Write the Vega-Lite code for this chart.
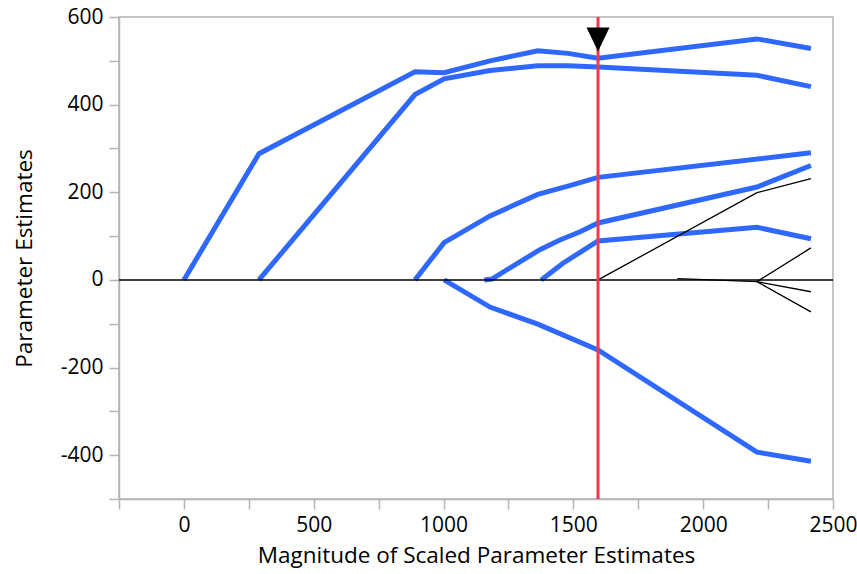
{
  "$schema": "https://vega.github.io/schema/vega-lite/v6.json",
  "width": 714,
  "height": 482,
  "autosize": {"type": "none"},
  "padding": {"left": 119, "top": 17, "right": 24, "bottom": 75},
  "background": "white",
  "config": {
    "font": "Open Sans",
    "view": {"stroke": "#b4b4b4", "strokeWidth": 1.5},
    "axis": {
      "domainColor": "#b4b4b4",
      "domainWidth": 1.5,
      "tickColor": "#b4b4b4",
      "tickWidth": 1.5,
      "grid": false,
      "labelColor": "black",
      "labelFontSize": 21,
      "titleFontSize": 22.5,
      "titleFontWeight": "normal",
      "titleColor": "black",
      "labelFont": "Open Sans",
      "titleFont": "Open Sans"
    }
  },
  "datasets": {
    "paths": [
      {"series": "A", "group": "blue", "x": 0, "y": 0},
      {"series": "A", "group": "blue", "x": 289, "y": 288},
      {"series": "A", "group": "blue", "x": 890, "y": 475},
      {"series": "A", "group": "blue", "x": 1002, "y": 473},
      {"series": "A", "group": "blue", "x": 1179, "y": 500},
      {"series": "A", "group": "blue", "x": 1363, "y": 523},
      {"series": "A", "group": "blue", "x": 1479, "y": 517},
      {"series": "A", "group": "blue", "x": 1595, "y": 506},
      {"series": "A", "group": "blue", "x": 2207, "y": 550},
      {"series": "A", "group": "blue", "x": 2415, "y": 528},
      {"series": "B", "group": "blue", "x": 289, "y": 0},
      {"series": "B", "group": "blue", "x": 890, "y": 423},
      {"series": "B", "group": "blue", "x": 1002, "y": 459},
      {"series": "B", "group": "blue", "x": 1179, "y": 478},
      {"series": "B", "group": "blue", "x": 1363, "y": 489},
      {"series": "B", "group": "blue", "x": 1479, "y": 489},
      {"series": "B", "group": "blue", "x": 1595, "y": 486},
      {"series": "B", "group": "blue", "x": 2207, "y": 467},
      {"series": "B", "group": "blue", "x": 2415, "y": 441},
      {"series": "C", "group": "blue", "x": 890, "y": 0},
      {"series": "C", "group": "blue", "x": 1002, "y": 85},
      {"series": "C", "group": "blue", "x": 1179, "y": 146},
      {"series": "C", "group": "blue", "x": 1363, "y": 195},
      {"series": "C", "group": "blue", "x": 1479, "y": 214},
      {"series": "C", "group": "blue", "x": 1595, "y": 234},
      {"series": "C", "group": "blue", "x": 2415, "y": 290},
      {"series": "D", "group": "blue", "x": 1157, "y": 0},
      {"series": "D", "group": "blue", "x": 1186, "y": 2},
      {"series": "D", "group": "blue", "x": 1371, "y": 69},
      {"series": "D", "group": "blue", "x": 1448, "y": 91},
      {"series": "D", "group": "blue", "x": 1526, "y": 110},
      {"series": "D", "group": "blue", "x": 1595, "y": 130},
      {"series": "D", "group": "blue", "x": 2207, "y": 212},
      {"series": "D", "group": "blue", "x": 2415, "y": 261},
      {"series": "E", "group": "blue", "x": 1376, "y": 0},
      {"series": "E", "group": "blue", "x": 1460, "y": 38},
      {"series": "E", "group": "blue", "x": 1595, "y": 89},
      {"series": "E", "group": "blue", "x": 2207, "y": 120},
      {"series": "E", "group": "blue", "x": 2415, "y": 94},
      {"series": "F", "group": "blue", "x": 1002, "y": 0},
      {"series": "F", "group": "blue", "x": 1179, "y": -62},
      {"series": "F", "group": "blue", "x": 1363, "y": -101},
      {"series": "F", "group": "blue", "x": 1595, "y": -160},
      {"series": "F", "group": "blue", "x": 2207, "y": -393},
      {"series": "F", "group": "blue", "x": 2415, "y": -414},
      {"series": "G", "group": "black", "x": 1595, "y": 0},
      {"series": "G", "group": "black", "x": 2207, "y": 199},
      {"series": "G", "group": "black", "x": 2415, "y": 231},
      {"series": "H1", "group": "black", "x": 1900, "y": 3},
      {"series": "H1", "group": "black", "x": 2207, "y": -4},
      {"series": "H1", "group": "black", "x": 2415, "y": 73},
      {"series": "H2", "group": "black", "x": 2207, "y": -4},
      {"series": "H2", "group": "black", "x": 2415, "y": -27},
      {"series": "H3", "group": "black", "x": 2207, "y": -4},
      {"series": "H3", "group": "black", "x": 2415, "y": -73}
    ],
    "marker": [{"x": 1595, "y": 550}],
    "zero": [{"y": 0}],
    "selected": [{"x": 1595}]
  },
  "layer": [
    {
      "data": {"name": "paths"},
      "transform": [{"filter": "datum.group === 'blue'"}],
      "mark": {"type": "line", "color": "#2f68ff", "strokeWidth": 5, "clip": true},
      "encoding": {
        "x": {
          "field": "x", "type": "quantitative",
          "scale": {"domain": [-250, 2500], "nice": false, "zero": false},
          "axis": {
            "title": "Magnitude of Scaled Parameter Estimates",
            "values": [-250, 0, 250, 500, 750, 1000, 1250, 1500, 1750, 2000, 2250, 2500],
            "labelExpr": "datum.value % 500 === 0 ? '' + datum.value : ''",
            "labelOverlap": false,
            "labelFlush": false,
            "tickSize": 10,
            "labelPadding": 5,
            "titlePadding": 9,
            "encode": {"ticks": {"update": {"y2": {"signal": "datum.value % 500 === 0 ? 10 : 5"}}}}
          }
        },
        "y": {
          "field": "y", "type": "quantitative",
          "scale": {"domain": [-500, 600], "nice": false, "zero": false},
          "axis": {
            "title": "Parameter Estimates",
            "values": [-500, -400, -300, -200, -100, 0, 100, 200, 300, 400, 500, 600],
            "labelExpr": "datum.value % 200 === 0 ? '' + datum.value : ''",
            "labelOverlap": false,
            "labelFlush": false,
            "tickSize": 10,
            "labelPadding": 6,
            "titlePadding": 24,
            "encode": {"ticks": {"update": {"x2": {"signal": "datum.value % 200 === 0 ? -10 : -5"}}}}
          }
        },
        "detail": {"field": "series"}
      }
    },
    {
      "data": {"name": "paths"},
      "transform": [{"filter": "datum.group === 'black'"}],
      "mark": {"type": "line", "color": "black", "strokeWidth": 1.3, "clip": true},
      "encoding": {
        "x": {"field": "x", "type": "quantitative"},
        "y": {"field": "y", "type": "quantitative"},
        "detail": {"field": "series"}
      }
    },
    {
      "data": {"name": "zero"},
      "mark": {"type": "rule", "color": "black", "strokeWidth": 1.5},
      "encoding": {"y": {"field": "y", "type": "quantitative"}}
    },
    {
      "data": {"name": "selected"},
      "mark": {"type": "rule", "color": "#f0384d", "strokeWidth": 3},
      "encoding": {"x": {"field": "x", "type": "quantitative"}}
    },
    {
      "data": {"name": "marker"},
      "mark": {"type": "point", "shape": "M-1,-1L1,-1L0,1.1Z", "filled": true, "color": "black", "size": 529, "opacity": 1, "strokeWidth": 0},
      "encoding": {
        "x": {"field": "x", "type": "quantitative"},
        "y": {"field": "y", "type": "quantitative"}
      }
    }
  ]
}
